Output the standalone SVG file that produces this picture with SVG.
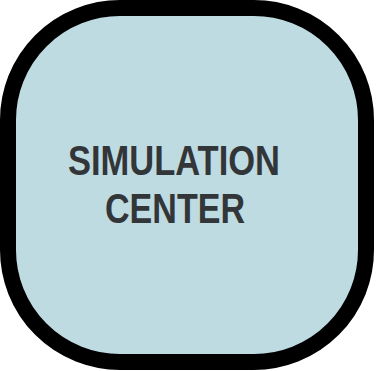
<svg xmlns="http://www.w3.org/2000/svg" width="380" height="371" viewBox="0 0 380 371">
<style>
.t{font-family:"Liberation Sans",Arial,sans-serif;font-weight:bold;font-size:42px;fill:#333638;text-anchor:middle}
</style>
<rect width="380" height="371" fill="#fff"/>
<g id="simulation-center">
<rect x="8" y="8" width="358" height="354" rx="112" ry="112" fill="#bfdbe2" stroke="#000" stroke-width="16"/>
<text class="t" x="174" y="175" textLength="212" lengthAdjust="spacingAndGlyphs">SIMULATION</text>
<text class="t" x="175" y="223" textLength="140" lengthAdjust="spacingAndGlyphs">CENTER</text>
</g>
</svg>
